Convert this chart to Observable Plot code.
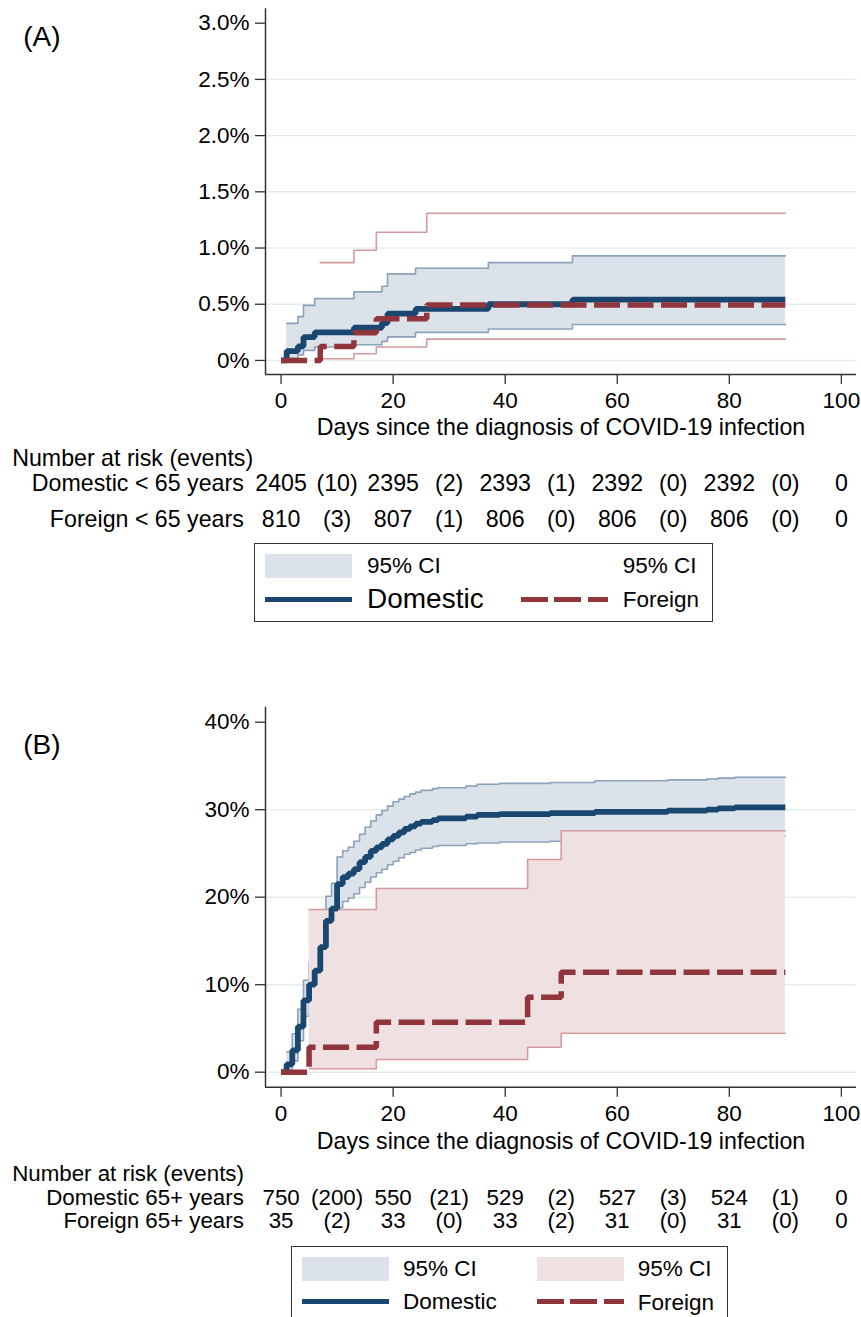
<!DOCTYPE html>
<html>
<head>
<meta charset="utf-8">
<script src="https://cdn.jsdelivr.net/npm/d3@7"></script>
<script src="https://cdn.jsdelivr.net/npm/@observablehq/plot@0.6"></script>
<style>
  body { margin: 0; background: #fff; }
  #wrap { position: relative; width: 861px; height: 1317px; overflow: hidden; background: #fff;
          font-family: "Liberation Sans", Arial, Helvetica, sans-serif; color: #000; }
  .svgbox { position: absolute; left: 0; }
  .legend { position: absolute; border: 1.4px solid #333; box-sizing: border-box; background: #fff; }
  .lg { position: absolute; }
  .lt { position: absolute; line-height: 1; transform: translateY(-50%); white-space: nowrap; font-size: 22.5px; }
</style>
</head>
<body>
<div id="wrap"></div>
<script>
// ---------- shared ----------
const dayTicks = [0, 20, 40, 60, 80, 100];
const riskTimes = [0, 10, 20, 30, 40, 50, 60, 70, 80, 90, 100];

// ---------- Panel A (< 65 years), values in % ----------
const aYTicks = [0, 0.5, 1.0, 1.5, 2.0, 2.5, 3.0];
const aGridTicks = [0, 0.5, 1.0, 1.5, 2.0, 2.5];
const aDomDay = [0, 1, 3, 4, 6, 13, 18, 19, 24, 37, 52, 90];
const aDomEst = [0, 0.083, 0.125, 0.208, 0.25, 0.291, 0.333, 0.416, 0.458, 0.50, 0.541, 0.541];
const aDomCiDay = [1, 3, 4, 6, 13, 18, 19, 24, 37, 52, 90];
const aDomLo = [0.02, 0.05, 0.09, 0.12, 0.14, 0.17, 0.21, 0.25, 0.28, 0.32, 0.32];
const aDomHi = [0.33, 0.39, 0.49, 0.55, 0.61, 0.66, 0.77, 0.82, 0.87, 0.93, 0.93];
const aForDay = [0, 7, 13, 17, 26, 90];
const aForEst = [0, 0.123, 0.247, 0.370, 0.494, 0.494];
const aForCiDay = [7, 13, 17, 26, 90];
const aForLo = [0.015, 0.06, 0.12, 0.19, 0.19];
const aForHi = [0.87, 0.98, 1.14, 1.31, 1.31];
const aRiskLabels = ["Domestic < 65 years", "Foreign < 65 years"];
const aRiskDom = ["2405", "(10)", "2395", "(2)", "2393", "(1)", "2392", "(0)", "2392", "(0)", "0"];
const aRiskFor = ["810", "(3)", "807", "(1)", "806", "(0)", "806", "(0)", "806", "(0)", "0"];

// ---------- Panel B (65+ years), values in % ----------
const bYTicks = [0, 10, 20, 30, 40];
const bGridTicks = [0, 10, 20, 30];
const bDomDay = [0,1,2,3,4,5,6,7,8,9,10,11,12,13,14,15,16,17,18,19,20,21,22,23,24,25,27,28,33,35,39,48,56,69,76,78,81,90];
const bDomEst = [0,0.9,2.5,5.2,8.2,10.0,11.6,14.3,17.3,18.7,21.5,22.3,22.7,23.2,24.0,24.6,25.3,25.7,26.1,26.6,27.0,27.4,27.8,28.1,28.4,28.6,28.8,29.0,29.2,29.4,29.5,29.6,29.75,29.9,30.0,30.15,30.27,30.27];
const bDomCiDay = [1,2,3,4,5,6,7,8,9,10,11,12,13,14,15,16,17,18,19,20,21,22,23,24,25,27,28,33,35,39,48,56,69,76,78,81,90];
const bDomLo = [0.2,1.3,3.6,6.4,7.9,9.4,11.9,14.7,16.1,18.8,19.5,19.9,20.4,21.1,21.7,22.3,22.8,23.2,23.7,24.1,24.5,24.9,25.1,25.4,25.6,25.8,25.9,26.1,26.2,26.3,26.4,26.6,26.7,26.8,26.9,27.0,27.0];
const bDomHi = [2.3,4.4,7.2,10.5,12.6,14.3,17.2,20.1,21.6,24.6,25.3,25.7,26.4,27.2,28.0,28.7,29.4,29.9,30.4,30.9,31.2,31.5,31.8,32.0,32.2,32.4,32.5,32.7,32.9,33.0,33.1,33.3,33.4,33.5,33.6,33.7,33.7];
const bForDay = [0, 5, 17, 44, 50, 90];
const bForEst = [0, 2.86, 5.71, 8.57, 11.43, 11.43];
const bForCiDay = [5, 17, 44, 50, 90];
const bForLo = [0.4, 1.45, 2.85, 4.45, 4.45];
const bForHi = [18.6, 21.0, 24.3, 27.6, 27.6];
const bRiskLabels = ["Domestic 65+ years", "Foreign 65+ years"];
const bRiskDom = ["750", "(200)", "550", "(21)", "529", "(2)", "527", "(3)", "524", "(1)", "0"];
const bRiskFor = ["35", "(2)", "33", "(0)", "33", "(2)", "31", "(0)", "31", "(0)", "0"];

// ---------- styles ----------
const NAVY = "#1a476f", MAROON = "#90353b";
const BLUE_FILL = "#dce2ea", BLUE_CI = "#8ca1bb";
const PINK_FILL = "#efe0e1", RED_CI = "#d49a9d";
const GRID = "#e3edf0", AXIS = "#333";
const FONT = "'Liberation Sans', Arial, Helvetica, sans-serif";

const pts = (xs, ys) => xs.map((t, i) => ({t, v: ys[i]}));
const band = (xs, lo, hi) => xs.map((t, i) => ({t, lo: lo[i], hi: hi[i]}));
const row = (vals) => riskTimes.map((t, i) => ({t, s: vals[i]}));

function panel(cfg) {
  const xDom = [-2.78, 102.7];
  const M = {lineAnchor: "middle", fontSize: 23.2};
  const T = {lineAnchor: "middle", fontSize: cfg.tableSize};
  const marks = [
    Plot.gridY(cfg.gridTicks, {stroke: GRID, strokeOpacity: 1, strokeWidth: 1.4}),
    Plot.areaY(band(cfg.domCiDay, cfg.domLo, cfg.domHi), {x: "t", y1: "lo", y2: "hi", curve: "step-after", fill: BLUE_FILL}),
    Plot.line(pts(cfg.domCiDay, cfg.domLo), {x: "t", y: "v", curve: "step-after", stroke: BLUE_CI, strokeWidth: 1.6}),
    Plot.line(pts(cfg.domCiDay, cfg.domHi), {x: "t", y: "v", curve: "step-after", stroke: BLUE_CI, strokeWidth: 1.6}),
  ];
  if (cfg.forFill) {
    marks.push(Plot.areaY(band(cfg.forCiDay, cfg.forLo, cfg.forHi), {x: "t", y1: "lo", y2: "hi", curve: "step-after", fill: cfg.forFill}));
  }
  marks.push(
    Plot.line(pts(cfg.forCiDay, cfg.forLo), {x: "t", y: "v", curve: "step-after", stroke: RED_CI, strokeWidth: 1.6}),
    Plot.line(pts(cfg.forCiDay, cfg.forHi), {x: "t", y: "v", curve: "step-after", stroke: RED_CI, strokeWidth: 1.6}),
    Plot.line(pts(cfg.domDay, cfg.domEst), {x: "t", y: "v", curve: "step-after", stroke: NAVY, strokeWidth: 5.8, strokeLinejoin: "miter", strokeLinecap: "butt"}),
    Plot.line(pts(cfg.forDay, cfg.forEst), {x: "t", y: "v", curve: "step-after", stroke: MAROON, strokeWidth: 5.5, strokeDasharray: "26,7.5", strokeLinejoin: "miter", strokeLinecap: "butt"}),
    Plot.ruleX([xDom[0]], {stroke: AXIS, strokeWidth: 1.5}),
    Plot.ruleY([cfg.yDom[0]], {stroke: AXIS, strokeWidth: 1.5}),
    Plot.axisY({ticks: cfg.yTicks, tickFormat: cfg.yFmt, tickSize: 10, tickPadding: 6, label: null, stroke: AXIS, strokeWidth: 1.3}),
    Plot.axisX({ticks: dayTicks, tickSize: 10, tickPadding: 7.5, label: null, stroke: AXIS, strokeWidth: 1.3}),
    Plot.text(["Days since the diagnosis of COVID-19 infection"], {...M, text: d => d, frameAnchor: "bottom", dy: cfg.dyTitle}),
    Plot.text([cfg.tag], {...M, text: d => d, frameAnchor: "top-left", dx: -242.3, dy: cfg.dyTag, textAnchor: "start", fontSize: 28}),
    Plot.text(["Number at risk (events)"], {...T, text: d => d, frameAnchor: "bottom-left", dx: -253.3, dy: cfg.dyHead, textAnchor: "start"}),
    Plot.text([cfg.riskLabels[0]], {...T, text: d => d, frameAnchor: "bottom-left", dx: -21.7, dy: cfg.dyRow1, textAnchor: "end"}),
    Plot.text([cfg.riskLabels[1]], {...T, text: d => d, frameAnchor: "bottom-left", dx: -21.7, dy: cfg.dyRow2, textAnchor: "end"}),
    Plot.text(row(cfg.riskDom), {...T, x: "t", text: "s", frameAnchor: "bottom", dy: cfg.dyRow1}),
    Plot.text(row(cfg.riskFor), {...T, x: "t", text: "s", frameAnchor: "bottom", dy: cfg.dyRow2})
  );
  return Plot.plot({
    width: 861,
    height: 540,
    marginLeft: 265,
    marginRight: 5,
    marginTop: cfg.mTop,
    marginBottom: cfg.mBottom,
    x: {domain: xDom},
    y: {domain: cfg.yDom},
    style: {fontFamily: FONT, fontSize: "22.5px", color: "#000", background: "transparent", overflow: "visible"},
    marks
  });
}

const wrap = document.getElementById("wrap");

const svgA = panel({
  tag: "(A)", yTicks: aYTicks, gridTicks: aGridTicks, yDom: [-0.125, 3.128],
  yFmt: d => d === 0 ? "0%" : d.toFixed(1) + "%",
  domDay: aDomDay, domEst: aDomEst, domCiDay: aDomCiDay, domLo: aDomLo, domHi: aDomHi,
  forDay: aForDay, forEst: aForEst, forCiDay: aForCiDay, forLo: aForLo, forHi: aForHi, forFill: null,
  riskLabels: aRiskLabels, riskDom: aRiskDom, riskFor: aRiskFor, tableSize: 23.2,
  mTop: 8.3, mBottom: 166,
  dyTitle: 53, dyTag: 28.4, dyHead: 83.8, dyRow1: 109.5, dyRow2: 144.8
});
const boxA = document.createElement("div");
boxA.className = "svgbox"; boxA.style.top = "0px";
boxA.appendChild(svgA); wrap.appendChild(boxA);

const svgB = panel({
  tag: "(B)", yTicks: bYTicks, gridTicks: bGridTicks, yDom: [-1.714, 41.71],
  yFmt: d => d + "%",
  domDay: bDomDay, domEst: bDomEst, domCiDay: bDomCiDay, domLo: bDomLo, domHi: bDomHi,
  forDay: bForDay, forEst: bForEst, forCiDay: bForCiDay, forLo: bForLo, forHi: bForHi, forFill: PINK_FILL,
  riskLabels: bRiskLabels, riskDom: bRiskDom, riskFor: bRiskFor, tableSize: 22.3,
  mTop: 6.7, mBottom: 153.3,
  dyTitle: 54, dyTag: 38.3, dyHead: 87, dyRow1: 110.5, dyRow2: 133.8
});
const boxB = document.createElement("div");
boxB.className = "svgbox"; boxB.style.top = "700px";
boxB.appendChild(svgB); wrap.appendChild(boxB);

// ---------- legends (HTML) ----------
function el(parent, cls, css, text) {
  const d = document.createElement("div");
  d.className = cls;
  Object.assign(d.style, css);
  if (text) d.textContent = text;
  parent.appendChild(d);
  return d;
}
const dash = `repeating-linear-gradient(to right, ${MAROON} 0px, ${MAROON} 26.7px, transparent 26.7px, transparent 33.4px)`;

function legend(L) {
  const box = el(wrap, "legend", {left: L.x + "px", top: L.y + "px", width: L.w + "px", height: L.h + "px"});
  const ox = L.x, oy = L.y;
  const p = (v, o) => (v - o) + "px";
  el(box, "lg", {left: p(L.sw1, ox), top: p(L.r1 - 11.7, oy), width: "87px", height: "23.4px", background: BLUE_FILL});
  el(box, "lt", {left: p(L.t1, ox), top: p(L.r1, oy)}, "95% CI");
  if (L.pink) el(box, "lg", {left: p(L.sw2, ox), top: p(L.r1 - 11.7, oy), width: "87px", height: "23.4px", background: PINK_FILL});
  el(box, "lt", {left: p(L.t2, ox), top: p(L.r1, oy)}, "95% CI");
  el(box, "lg", {left: p(L.sw1, ox), top: p(L.r2 - 2.65, oy), width: "87px", height: "5.3px", background: NAVY});
  el(box, "lt", {left: p(L.t1, ox), top: p(L.r2, oy), fontSize: L.domSize + "px"}, "Domestic");
  el(box, "lg", {left: p(L.sw2, ox), top: p(L.r2 - 2.65, oy), width: "87px", height: "5.3px", background: dash});
  el(box, "lt", {left: p(L.t2, ox), top: p(L.r2 + 1, oy)}, "Foreign");
}
legend({x: 254, y: 543.3, w: 459.3, h: 79, sw1: 264, sw2: 520, t1: 366, t2: 621.7, r1: 565, r2: 598.5, domSize: 28, pink: false});
legend({x: 290.7, y: 1246, w: 437.6, h: 90, sw1: 300.7, sw2: 535.7, t1: 402, t2: 636.7, r1: 1268, r2: 1300.7, domSize: 22.5, pink: true});
</script>
</body>
</html>
